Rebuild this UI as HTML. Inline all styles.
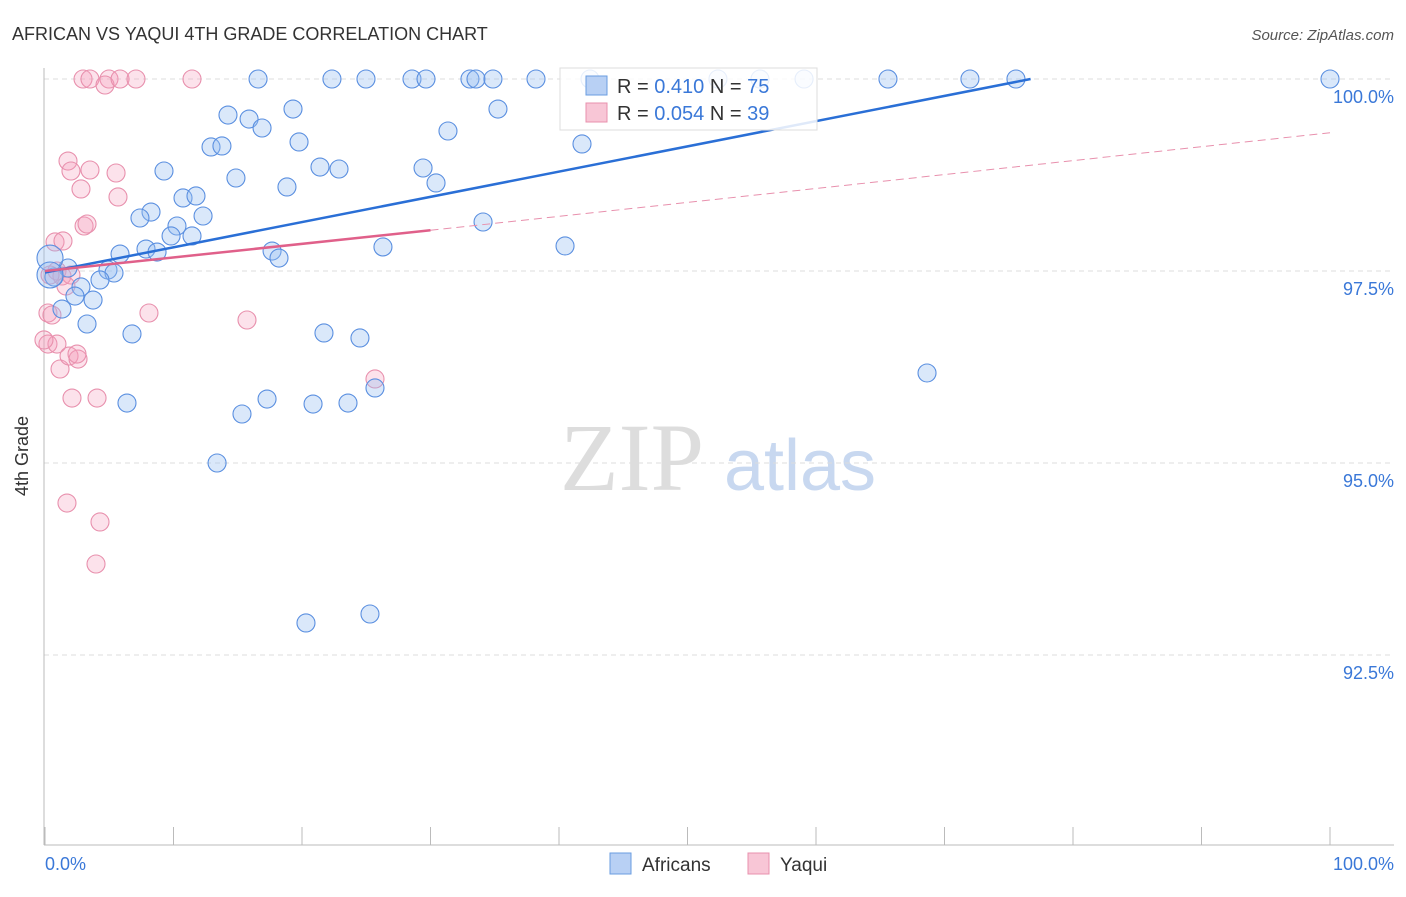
<!DOCTYPE html>
<html><head><meta charset="utf-8"><style>
body{margin:0;background:#fff;font-family:"Liberation Sans",sans-serif;}
</style></head><body>
<svg width="1406" height="892" xmlns="http://www.w3.org/2000/svg">
<text x="12" y="40" font-size="18" fill="#333">AFRICAN VS YAQUI 4TH GRADE CORRELATION CHART</text>
<text x="1394" y="40" font-size="15" fill="#555" font-style="italic" text-anchor="end">Source: ZipAtlas.com</text>
<text x="632" y="490" font-size="96" fill="#ddd" font-family="Liberation Serif" text-anchor="middle">ZIP</text>
<text x="800" y="490" font-size="72" fill="#c8d8f0" text-anchor="middle">atlas</text>
<g id="grid"></g>
<line x1="44" y1="68" x2="44" y2="845" stroke="#bbb"/>
<line x1="44" y1="845" x2="1394" y2="845" stroke="#bbb"/>
<g id="ticks"></g>
<text x="28" y="456" font-size="18" fill="#333" text-anchor="middle" transform="rotate(-90 28 456)">4th Grade</text>
<text x="45" y="870" font-size="18" fill="#3a78d8">0.0%</text>
<text x="1394" y="870" font-size="18" fill="#3a78d8" text-anchor="end">100.0%</text>
<g id="pts"></g>
<g id="lines"></g>
<g>
<rect x="560" y="68" width="257" height="62" fill="#fff" fill-opacity="0.85" stroke="#ddd"/>
<rect x="586" y="76" width="21" height="19" fill="#b8d0f4" stroke="#6a9de0"/>
<text x="617" y="93" font-size="20" fill="#333">R = <tspan fill="#3a78d8">0.410</tspan>   N = <tspan fill="#3a78d8">75</tspan></text>
<rect x="586" y="103" width="21" height="19" fill="#f8c6d6" stroke="#e890ad"/>
<text x="617" y="120" font-size="20" fill="#333">R = <tspan fill="#3a78d8">0.054</tspan>   N = <tspan fill="#3a78d8">39</tspan></text>
</g>
<g>
<rect x="610" y="853" width="21" height="21" fill="#b8d0f4" stroke="#6a9de0"/>
<text x="642" y="871" font-size="19" fill="#333">Africans</text>
<rect x="748" y="853" width="21" height="21" fill="#f8c6d6" stroke="#e890ad"/>
<text x="780" y="871" font-size="19" fill="#333">Yaqui</text>
</g>
</svg>
<script>
const yTicks=[100,97.5,95,92.5];
const xTicks=[0,10,20,30,40,50,60,70,80,90,100];
const bluePx=[[258,79],[332,79],[366,79],[412,79],[426,79],[470,79],[476,79],[493,79],[536,79],[590,79],[718,79],[760,79],[804,79],[888,79],[970,79],[1016,79],[1330,79],[293,109],[498,109],[228,115],[249,119],[262,128],[448,131],[299,142],[211,147],[222,146],[582,144],[164,171],[320,167],[339,169],[423,168],[236,178],[436,183],[287,187],[183,198],[196,196],[151,212],[140,218],[203,216],[177,226],[483,222],[171,236],[192,236],[146,249],[157,252],[120,254],[272,251],[279,258],[383,247],[565,246],[108,270],[114,273],[68,268],[54,277],[100,280],[81,287],[75,296],[93,300],[62,309],[87,324],[132,334],[324,333],[360,338],[927,373],[375,388],[127,403],[267,399],[313,404],[348,403],[242,414],[217,463],[306,623],[370,614],[50,258],[50,275]];
const pinkPx=[[83,79],[90,79],[109,79],[105,85],[120,79],[136,79],[192,79],[68,161],[71,171],[90,170],[116,173],[81,189],[118,197],[84,226],[87,224],[55,242],[63,241],[57,271],[62,276],[71,275],[66,286],[48,313],[52,315],[149,313],[247,320],[48,344],[57,344],[60,369],[69,356],[78,359],[77,354],[72,398],[97,398],[375,379],[67,503],[100,522],[96,564],[44,340],[50,275]];
const blueX=bluePx.map(p=>+((p[0]-45)/12.85).toFixed(2));
const blueY=bluePx.map(p=>+(100-(p[1]-79)/76.8).toFixed(3));
const pinkX=pinkPx.map(p=>+((p[0]-45)/12.85).toFixed(2));
const pinkY=pinkPx.map(p=>+(100-(p[1]-79)/76.8).toFixed(3));
const blueTrend=[[0,97.48],[76.7,100]];
const pinkTrend=[[0,97.5],[30,98.03],[100,99.3]];
const NS="http://www.w3.org/2000/svg";
const sx=v=>45+v*12.85, sy=v=>79+(100-v)*76.8;
function mk(t,a,parent){const e=document.createElementNS(NS,t);for(const k in a)e.setAttribute(k,a[k]);document.getElementById(parent).appendChild(e);return e;}
yTicks.forEach(v=>{
 const l=mk('line',{x1:44,x2:1394,y1:sy(v),y2:sy(v),stroke:'#ddd','stroke-dasharray':'5,4'},'grid');
 
 
 const t=mk('text',{x:1394,y:sy(v)+24,'font-size':18,fill:'#3a78d8','text-anchor':'end'},'grid');
 t.textContent=v.toFixed(1)+'%';
 
 
});
xTicks.forEach(v=>{
 const l=mk('line',{x1:sx(v),x2:sx(v),y1:827,y2:845,stroke:'#bbb'},'ticks');
 
 
});
function pts(xs,ys,fill,stroke,name){
 xs.forEach((x,i)=>{
  const big=(x<1&&(ys[i]>97.55&&ys[i]<97.9||Math.abs(ys[i]-97.48)<0.05))&&name==='african-point';
  const c=mk('circle',{cx:sx(x),cy:sy(ys[i]),r:big?13:9,fill:fill,stroke:stroke,'stroke-width':1.1},'pts');
  
  
 });
}
pts(pinkX,pinkY,'rgba(244,160,188,0.3)','#e890ad','yaqui-point');
pts(blueX,blueY,'rgba(150,190,240,0.35)','#5a8fe0','african-point');
const bl=mk('line',{x1:sx(blueTrend[0][0]),y1:sy(blueTrend[0][1]),x2:sx(blueTrend[1][0]),y2:sy(blueTrend[1][1]),stroke:'#2a6fd6','stroke-width':2.5},'lines');


const pl=mk('line',{x1:sx(pinkTrend[0][0]),y1:sy(pinkTrend[0][1]),x2:sx(pinkTrend[1][0]),y2:sy(pinkTrend[1][1]),stroke:'#e0608a','stroke-width':2.5},'lines');


const pd=mk('line',{x1:sx(pinkTrend[1][0]),y1:sy(pinkTrend[1][1]),x2:sx(pinkTrend[2][0]),y2:sy(pinkTrend[2][1]),stroke:'#e890ad','stroke-width':1,'stroke-dasharray':'8,5'},'lines');


</script>
</body></html>
